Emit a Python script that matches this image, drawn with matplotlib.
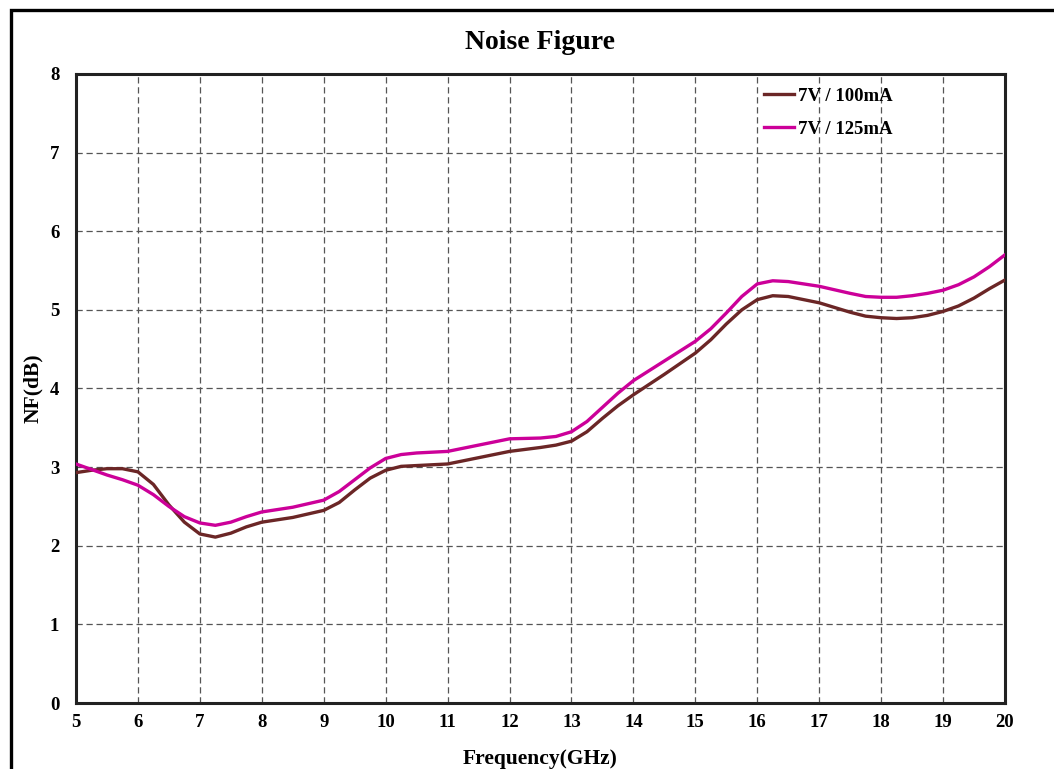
import numpy as np
import matplotlib.pyplot as plt
from matplotlib.patches import Rectangle

plt.rcParams['font.family'] = ['Liberation Serif', 'DejaVu Serif']
plt.rcParams['font.weight'] = 'bold'

# frequency points (GHz)
freq = [5, 5.25, 5.5, 5.75, 6, 6.25, 6.5, 6.75, 7, 7.25, 7.5, 7.75, 8, 8.5, 9,
        9.25, 9.5, 9.75, 10, 10.25, 10.5, 11, 11.5, 12, 12.5, 12.75, 13, 13.25,
        13.5, 13.75, 14, 14.5, 15, 15.25, 15.5, 15.75, 16, 16.25, 16.5, 17, 17.5,
        17.75, 18, 18.25, 18.5, 18.75, 19, 19.25, 19.5, 19.75, 20]

# noise figure, dB
nf_100ma = [2.93, 2.96, 2.98, 2.98, 2.94, 2.78, 2.52, 2.30, 2.15, 2.11, 2.16, 2.24,
            2.30, 2.36, 2.45, 2.55, 2.71, 2.86, 2.96, 3.01, 3.02, 3.04, 3.12, 3.20,
            3.25, 3.28, 3.33, 3.45, 3.62, 3.78, 3.92, 4.18, 4.45, 4.62, 4.82, 5.00,
            5.13, 5.18, 5.17, 5.09, 4.97, 4.92, 4.90, 4.89, 4.90, 4.93, 4.98, 5.05,
            5.15, 5.27, 5.38]
nf_125ma = [3.04, 2.97, 2.90, 2.84, 2.77, 2.65, 2.50, 2.37, 2.29, 2.26, 2.30, 2.37,
            2.43, 2.49, 2.58, 2.69, 2.84, 2.99, 3.11, 3.16, 3.18, 3.20, 3.28, 3.36,
            3.37, 3.39, 3.45, 3.58, 3.76, 3.94, 4.10, 4.35, 4.60, 4.76, 4.96, 5.17,
            5.33, 5.37, 5.36, 5.30, 5.21, 5.17, 5.16, 5.16, 5.18, 5.21, 5.25, 5.32,
            5.42, 5.55, 5.70]

fig = plt.figure(figsize=(10.54, 7.69), dpi=100)
ax = fig.add_axes([0.0721, 0.0858, 0.8814, 0.818])

ax.plot(freq, nf_100ma, color='#6B2626', lw=2.4, label='7V / 100mA',
        solid_joinstyle='round', zorder=3)
ax.plot(freq, nf_125ma, color='#CC0099', lw=2.4, label='7V / 125mA',
        solid_joinstyle='round', zorder=3)

ax.set_xlim(5, 20)
ax.set_ylim(0, 8)
ax.set_xticks(np.arange(5, 21, 1))
ax.set_yticks(np.arange(0, 9, 1))
ax.grid(True, ls=(0, (5, 3)), color='#555555', lw=0.9)
ax.tick_params(length=0, labelsize=13.5)
ax.tick_params(axis='x', pad=8)
ax.tick_params(axis='y', pad=12)
for sp in ax.spines.values():
    sp.set_linewidth(2.2)
    sp.set_color('#222222')

ax.set_xlabel('Frequency(GHz)', fontsize=15.5, fontweight='bold', labelpad=13)
ax.set_ylabel('NF(dB)', fontsize=15.5, fontweight='bold', labelpad=5)
ax.set_title('Noise Figure', fontsize=20, fontweight='bold', pad=18)

ax.legend(loc='upper left', bbox_to_anchor=(0.7327, 0.99), frameon=False,
          fontsize=13.5, handlelength=1.6, handletextpad=0.2, labelspacing=0.85,
          borderaxespad=0)

# outer frame
fig.add_artist(Rectangle((11 / 1054, -0.5), 2, (769 - 10) / 769 + 0.5,
                         transform=fig.transFigure, fill=False, lw=2.4,
                         edgecolor='black', clip_on=False))

fig.savefig('out.png', dpi=100)
